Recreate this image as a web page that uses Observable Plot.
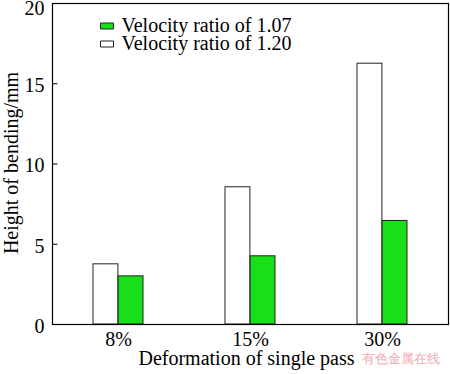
<!DOCTYPE html>
<html><head><meta charset="utf-8">
<script src="https://cdn.jsdelivr.net/npm/d3@7"></script>
<script src="https://cdn.jsdelivr.net/npm/@observablehq/plot@0.6"></script>
<style>body{margin:0;background:#fff} svg text{font-family:'Liberation Serif','Times New Roman',serif}</style>
</head><body><div id="chart"></div>
<script>
const categories = ["8%", "15%", "30%"];
const ratio120 = [3.75, 8.55, 16.25];
const ratio107 = [3.0, 4.25, 6.45];
const yTicks = [0, 5, 10, 15, 20];
const legendLabels = ["Velocity ratio of 1.07", "Velocity ratio of 1.20"];
const legendFills = ["#18e018", "#ffffff"];
const yLabel = "Height of bending/mm";
const xLabel = "Deformation of single pass";
const watermark = "有色金属在线";

const data120 = categories.map((c, i) => ({cat: c, v: ratio120[i]}));
const data107 = categories.map((c, i) => ({cat: c, v: ratio107[i]}));

const swatch = {draw(ctx) { ctx.rect(-6.5, -3, 13, 6); }};
const tickSym = {draw(ctx) { ctx.moveTo(0, 0); ctx.lineTo(5, 0); }};
const serif = "'Liberation Serif', 'Times New Roman', serif";

const legendRow = (i, dy) => [
  Plot.dot([legendLabels[i]], {frameAnchor: "top-left", dx: 54.5, dy: dy, symbol: swatch, fill: legendFills[i], stroke: "#222", strokeWidth: 1, r: 4}),
  Plot.text([legendLabels[i]], {frameAnchor: "top-left", text: (d) => d, dx: 69, dy: dy - 0.5, textAnchor: "start", lineAnchor: "middle", fontSize: 20, fontFamily: serif, fill: "#000"})
];

const chart = Plot.plot({
  width: 450, height: 374,
  marginLeft: 52, marginRight: 2, marginTop: 3, marginBottom: 50,
  style: {fontFamily: serif, fontSize: "20px", background: "#fff", color: "#000"},
  x: {domain: categories, paddingInner: 0.62, paddingOuter: 0.31, label: null},
  y: {domain: [0, 20], label: null},
  marks: [
    Plot.barY(data120, {x: "cat", y: "v", fill: "#fff", stroke: "#222", strokeWidth: 1, insetRight: 25.1}),
    Plot.barY(data107, {x: "cat", y: "v", fill: "#18e018", stroke: "#222", strokeWidth: 1, insetLeft: 25.1}),
    Plot.frame({stroke: "#000", strokeWidth: 1.2}),
    Plot.dot(yTicks, {y: (d) => d, frameAnchor: "left", symbol: tickSym, stroke: "#000", strokeWidth: 1, r: 3}),
    Plot.axisY(yTicks.slice(0, 4), {tickSize: 0, tickPadding: 8, dy: 2, label: null, fontSize: 20, fontFamily: serif}),
    Plot.axisY(yTicks.slice(4), {tickSize: 0, tickPadding: 8, dy: 5, label: null, fontSize: 20, fontFamily: serif}),
    Plot.axisX({tickSize: 0, tickPadding: 7, label: null, fontSize: 20, fontFamily: serif}),
    Plot.text([xLabel], {frameAnchor: "bottom", text: (d) => d, dx: -4, dy: 34, textAnchor: "middle", lineAnchor: "middle", fontSize: 20, fontFamily: serif, fill: "#000"}),
    Plot.text([yLabel], {frameAnchor: "left", text: (d) => d, dx: -41, dy: -1, rotate: -90, textAnchor: "middle", lineAnchor: "middle", fontSize: 20, fontFamily: serif, fill: "#000"}),
    Plot.text([watermark], {frameAnchor: "bottom-right", text: (d) => d, dx: -9, dy: 34, textAnchor: "end", lineAnchor: "middle", fontSize: 13, fontFamily: "'Noto Sans CJK SC'", fill: "#f2a9b2"}),
    ...legendRow(0, 22.5),
    ...legendRow(1, 40.5)
  ]
});
document.getElementById("chart").appendChild(chart);
</script>
</body></html>
